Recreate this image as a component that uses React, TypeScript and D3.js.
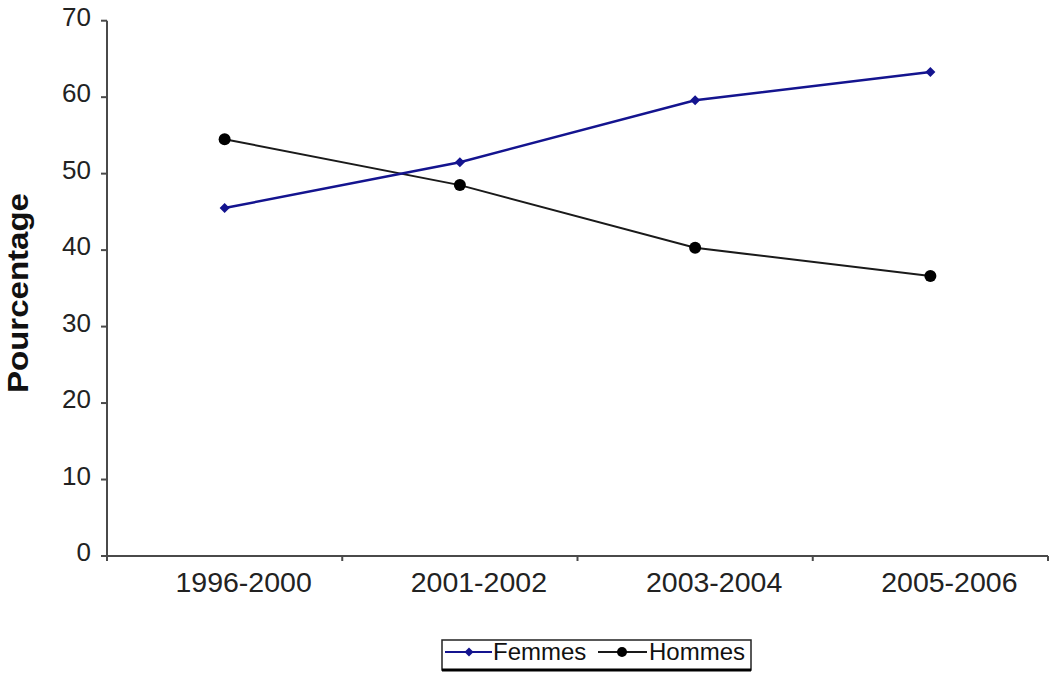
import React from "react";
import * as d3 from "d3";

const categories = ["1996-2000", "2001-2002", "2003-2004", "2005-2006"];
const femmes = [45.5, 51.5, 59.6, 63.3];
const hommes = [54.5, 48.5, 40.3, 36.6];
const yTicks = [0, 10, 20, 30, 40, 50, 60, 70];
const seriesNames = ["Femmes", "Hommes"];

const W = 1050;
const H = 673;
const left = 107;
const right = 1048;
const top = 20.7;
const bottom = 556;
const FONT = "Liberation Sans, Arial, Helvetica, sans-serif";

export default function App() {
  const x = d3.scaleBand<string>().domain(categories).range([left, right]).padding(0);
  const y = d3.scaleLinear().domain([0, 70]).range([bottom, top]);
  const cx = (c: string) => (x(c) as number) + x.bandwidth() / 2;
  const line = d3
    .line<number>()
    .x((_, i) => cx(categories[i]))
    .y((d) => y(d));
  const blue = "#14148f";
  const black = "#1a1a1a";
  const axisColor = "#4a4a4a";
  const diamond = (px: number, py: number, r: number) =>
    `M${px},${py - r}L${px + r},${py}L${px},${py + r}L${px - r},${py}Z`;
  const bandEdges = [...categories.map((c) => x(c) as number), right];

  return (
    <svg
      width={W}
      height={H}
      style={{ position: "absolute", left: 0, top: 0, background: "#fff" }}
      fontFamily={FONT}
    >
      {/* y axis */}
      <line x1={left} x2={left} y1={top} y2={bottom} stroke={axisColor} strokeWidth={2} />
      {yTicks.map((t) => (
        <g key={t}>
          <line x1={left - 6} x2={left} y1={y(t)} y2={y(t)} stroke={axisColor} strokeWidth={2} />
          <text x={left - 16} y={y(t) - 4} dy="0.35em" textAnchor="end" fontSize={26} fill="#222">
            {t}
          </text>
        </g>
      ))}
      {/* x axis */}
      <line x1={left - 6} x2={right} y1={bottom} y2={bottom} stroke={axisColor} strokeWidth={2} />
      {bandEdges.map((e, i) => (
        <line key={i} x1={e} x2={e} y1={bottom} y2={bottom + 5} stroke={axisColor} strokeWidth={2} />
      ))}
      {categories.map((c) => (
        <text key={c} x={cx(c) + 19} y={591.5} textAnchor="middle" fontSize={28.5} fill="#222">
          {c}
        </text>
      ))}
      {/* y title */}
      <text
        transform={`translate(28,${(193 + 393) / 2}) rotate(-90)`}
        textAnchor="middle"
        fontSize={29}
        fontWeight="bold"
        fill="#111"
        textLength={200}
        lengthAdjust="spacingAndGlyphs"
      >
        Pourcentage
      </text>
      {/* lines */}
      <path d={line(hommes) || ""} fill="none" stroke={black} strokeWidth={2} />
      <path d={line(femmes) || ""} fill="none" stroke={blue} strokeWidth={2.5} />
      {hommes.map((v, i) => (
        <circle key={i} cx={cx(categories[i])} cy={y(v)} r={6} fill="#000" />
      ))}
      {femmes.map((v, i) => (
        <path key={i} d={diamond(cx(categories[i]), y(v), 5)} fill={blue} />
      ))}
      {/* legend */}
      <g>
        <rect x={442} y={640} width={309} height={30} fill="#fff" stroke="#222" strokeWidth={1.5} />
        <line x1={442} x2={751} y1={670} y2={670} stroke="#000" strokeWidth={3} />
        <line x1={445} x2={492} y1={652} y2={652} stroke={blue} strokeWidth={2} />
        <path d={diamond(469, 652, 4.5)} fill={blue} />
        <text x={493} y={652} dy="0.35em" fontSize={24} fill="#111">
          {seriesNames[0]}
        </text>
        <line x1={598} x2={647} y1={652} y2={652} stroke={black} strokeWidth={2} />
        <circle cx={622} cy={652} r={5} fill="#000" />
        <text x={649} y={652} dy="0.35em" fontSize={24} fill="#111">
          {seriesNames[1]}
        </text>
      </g>
    </svg>
  );
}
